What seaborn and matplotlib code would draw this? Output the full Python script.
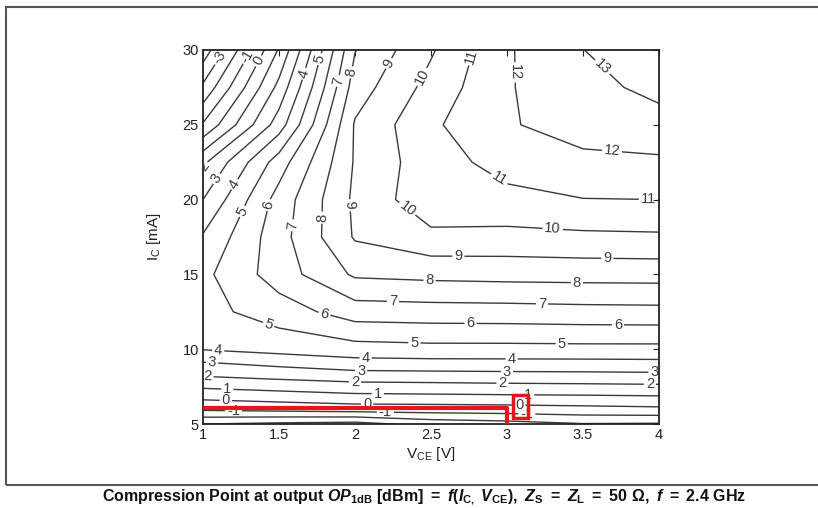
import numpy as np
import pandas as pd
import matplotlib
matplotlib.use("Agg")
import matplotlib.pyplot as plt
from matplotlib.patches import Rectangle
import seaborn as sns

# ---------------- data ----------------
vce = [1.0, 1.5, 2.0, 2.5, 3.0, 3.5, 4.0]                       # V_CE [V]
ic = [5, 6, 7, 8, 9, 10, 12.5, 15, 17.5, 20, 22.5, 25, 27.5, 30]  # I_C [mA]
# OP1dB [dBm], one row per I_C value, columns follow vce
op1db_ic5    = [-3.0, -3.2, -3.35, -2.65, -2.4, -2.05, -2.1]
op1db_ic6    = [-0.8, -0.65, -0.48, -0.45, -0.4, -0.3, -0.2]
op1db_ic7    = [0.5, 0.73, 0.95, 1.0, 1.06, 1.1, 1.16]
op1db_ic8    = [1.81, 2.02, 2.25, 2.3, 2.36, 2.4, 2.45]
op1db_ic9    = [2.84, 3.2, 3.55, 3.6, 3.62, 3.63, 3.67]
op1db_ic10   = [4.05, 4.35, 4.6, 4.7, 4.7, 4.72, 4.72]
op1db_ic12_5 = [4.67, 5.5, 6.5, 6.57, 6.6, 6.67, 6.7]
op1db_ic15   = [4.75, 6.5, 8.15, 8.28, 8.35, 8.38, 8.4]
op1db_ic17_5 = [4.1, 6.6, 9.1, 9.75, 9.7, 9.8, 9.85]
op1db_ic20   = [3.0, 6.4, 9.2, 10.7, 10.75, 10.97, 11.0]
op1db_ic22_5 = [1.8, 5.5, 9.1, 10.6, 11.34, 11.85, 11.85]
op1db_ic25   = [-0.9, 3.5, 9.1, 10.82, 11.94, 12.27, 12.6]
op1db_ic27_5 = [-2.8, 2.3, 8.5, 10.35, 11.92, 12.65, 13.3]
op1db_ic30   = [-4.6, 1.1, 7.96, 9.88, 11.89, 12.98, 14.0]
levels = list(range(-5, 15))

x_ticks = [1, 1.5, 2, 2.5, 3, 3.5, 4]
x_ticklabels = ["1", "1.5", "2", "2.5", "3", "3.5", "4"]
y_ticks = [5, 10, 15, 20, 25, 30]
y_ticklabels = ["5", "10", "15", "20", "25", "30"]

# highlighted operating point (red marker in the reference)
op_vce = 3.0
op_ic = 6.1

# where contour labels sit (layout, as in the reference)
label_spots = [
    (3.64, 29.0), (3.05, 28.5), (3.69, 23.2), (2.76, 29.6), (2.95, 21.4), (3.93, 20.0),
    (2.44, 28.2), (2.33, 19.2), (3.3, 17.85), (2.24, 29.0), (1.93, 19.6), (2.68, 16.2),
    (3.66, 16.0), (1.98, 28.5), (1.76, 18.8), (2.49, 14.5), (3.46, 14.4), (1.86, 28.0),
    (1.57, 18.3), (2.25, 13.1), (3.23, 12.95), (1.80, 29.3), (1.45, 19.6), (1.80, 12.4),
    (2.76, 11.6), (3.73, 11.55), (1.70, 28.3), (1.26, 19.2), (1.43, 11.6), (2.39, 10.3),
    (3.36, 10.3), (1.21, 21.0), (1.1, 9.9), (2.07, 9.4), (3.03, 9.2), (1.06, 21.6),
    (1.06, 9.1), (2.04, 8.5), (3.0, 8.45), (3.97, 8.45), (1.02, 22.1), (1.03, 8.1),
    (2.0, 7.8), (2.97, 7.72), (3.94, 7.65), (1.16, 7.3), (2.15, 7.05), (3.14, 7.0),
    (1.15, 6.65), (2.08, 6.3), (3.08, 6.25), (1.2, 5.8), (2.2, 5.82), (3.13, 5.45),
    (1.11, 29.5), (1.29, 29.6), (1.36, 29.3),
]

# ---------------- figure ----------------
sns.set_theme(style="white")
plt.rcParams["font.family"] = ["Liberation Sans", "DejaVu Sans"]
plt.rcParams["mathtext.fontset"] = "custom"
plt.rcParams["mathtext.rm"] = "Liberation Sans:bold"
plt.rcParams["mathtext.bf"] = "Liberation Sans:bold"
plt.rcParams["mathtext.it"] = "Liberation Sans:bold:italic"

W, H = 818, 508
fig = plt.figure(figsize=(W / 100, H / 100), dpi=100)
fig.patch.set_facecolor("white")
ax = fig.add_axes([203 / W, 1 - 424 / H, (659 - 203) / W, (424 - 50) / H])
ax.set_facecolor("white")

Z = np.array([op1db_ic5, op1db_ic6, op1db_ic7, op1db_ic8, op1db_ic9, op1db_ic10,
              op1db_ic12_5, op1db_ic15, op1db_ic17_5, op1db_ic20, op1db_ic22_5,
              op1db_ic25, op1db_ic27_5, op1db_ic30])
X, Y = np.meshgrid(vce, ic)
cs = ax.contour(X, Y, Z, levels=levels, colors="#3a3a3a", linewidths=1.0,
                linestyles="solid")

ax.set_xlim(1, 4)
ax.set_ylim(5, 30)
ax.clabel(cs, fmt="%d", fontsize=10.5, inline=True, inline_spacing=2,
          colors="#3a3a3a", manual=label_spots)

# red operating-point marker drawn with seaborn
red_df = pd.DataFrame({"VCE": [vce[0], op_vce, op_vce], "IC": [op_ic, op_ic, ic[0]]})
sns.lineplot(data=red_df, x="VCE", y="IC", sort=False, estimator=None,
             color="#e8141b", linewidth=3, ax=ax, zorder=5)
ax.add_patch(Rectangle((op_vce + 0.04, op_ic - 0.7), 0.1, 1.55, fill=False,
                       edgecolor="#e8141b", linewidth=2.5, zorder=6))

ax.set_xlim(1, 4)
ax.set_ylim(5, 30)
ax.set_xticks(x_ticks)
ax.set_xticklabels(x_ticklabels)
ax.set_yticks(y_ticks)
ax.set_yticklabels(y_ticklabels)
ax.tick_params(direction="in", top=True, right=True, length=4, width=0.8,
               labelsize=10.5, colors="#222222", pad=3)
for s in ax.spines.values():
    s.set_visible(True)
    s.set_color("#222222")
    s.set_linewidth(1.3)
ax.set_xlabel(r"$\mathregular{V_{CE}}$ [V]", fontsize=11, color="#222222", labelpad=2)
ax.set_ylabel(r"$\mathregular{I_C}$ [mA]", fontsize=11, color="#222222", labelpad=14)

# outer frame
fig.patches.append(Rectangle((6 / W, 1 - 485 / H), (840 - 6) / W, (485 - 7) / H,
                             transform=fig.transFigure, fill=False,
                             edgecolor="#555555", linewidth=1.5))

caption = (r"$\mathrm{Compression\ Point\ at\ output\ }\mathit{OP}_{\mathrm{1dB}}"
           r"\mathrm{\ [dBm]\ }\mathrm{=}\mathrm{\ }\mathit{f}\mathrm{(}\mathit{I}_{\mathrm{C,}}\ \mathit{V}_{\mathrm{CE}}\mathrm{),\ }"
           r"\mathit{Z}_{\mathrm{S}}\mathrm{\ }\mathrm{=}\mathrm{\ }\mathit{Z}_{\mathrm{L}}\mathrm{\ }\mathrm{=}\mathrm{\ 50\ \Omega,\ }"
           r"\mathit{f}\mathrm{\ }\mathrm{=}\mathrm{\ 2.4\ GHz}$")
fig.text(424 / W, 1 - 497 / H, caption, ha="center", va="center", fontsize=11.5, color="#111111")

fig.savefig("out.png", dpi=100)
